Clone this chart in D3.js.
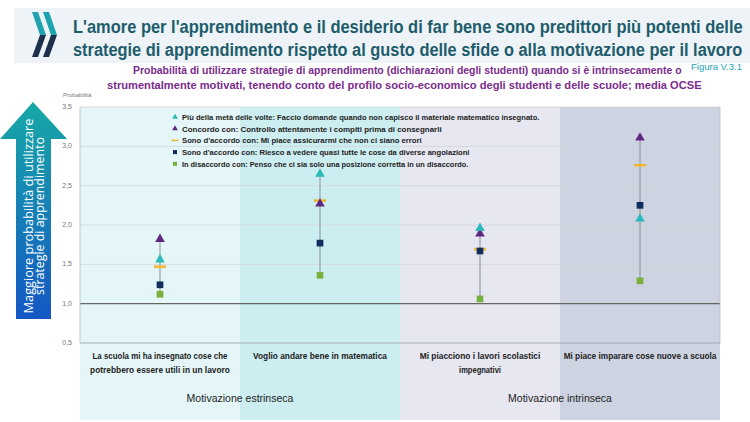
<!DOCTYPE html>
<html>
<head>
<meta charset="utf-8">
<script src="https://cdn.jsdelivr.net/npm/d3@7"></script>
<style>
  body { margin: 0; background: #fff; }
  svg { display: block; font-family: "Liberation Sans", "Noto Sans", sans-serif; }
</style>
</head>
<body>
<svg id="chart" width="750" height="422"></svg>
<script>
const width = 750;
const height = 422;

// data
const categories = ["lavoro", "matematica", "impegnativi", "imparare"];
const catLabels = [
  ["La scuola mi ha insegnato cose che", "potrebbero essere utili in un lavoro"],
  ["Voglio andare bene in matematica"],
  ["Mi piacciono i lavori scolastici", "impegnativi"],
  ["Mi piace imparare cose nuove a scuola"]
];
const groups = ["Motivazione estrinseca", "Motivazione intrinseca"];
const seriesNames = [
  "Più della metà delle volte: Faccio domande quando non capisco il materiale matematico insegnato.",
  "Concordo con: Controllo attentamente i compiti prima di consegnarli",
  "Sono d'accordo con: Mi piace assicurarmi che non ci siano errori",
  "Sono d'accordo con: Riesco a vedere quasi tutte le cose da diverse angolazioni",
  "In disaccordo con: Penso che ci sia solo una posizione corretta in un disaccordo."
];
const domande    = [1.56, 2.65, 1.96, 2.08];
const controllo  = [1.82, 2.27, 1.89, 3.11];
const errori     = [1.47, 2.31, 1.69, 2.76];
const angolazioni = [1.24, 1.77, 1.67, 2.25];
const disaccordo = [1.12, 1.36, 1.06, 1.29];
const yTicks = [0.5, 1.0, 1.5, 2.0, 2.5, 3.0, 3.5];

const margin = {top: 107, right: 30, bottom: 79, left: 80};

const svg = d3.select("#chart");

// squeeze a text horizontally to a target width (the original face is narrow)
function fitText(sel, px, py, w, rot) {
  sel.attr("x", 0).attr("y", 0);
  const n = sel.node().getComputedTextLength();
  const s = w / n;
  sel.attr("transform", `translate(${px},${py})${rot ? ` rotate(${rot})` : ""} scale(${s},1)`);
  return sel;
}

const x = d3.scaleBand()
    .domain(categories)
    .range([margin.left, width - margin.right]);

const y = d3.scaleLinear()
    .domain([0.5, 3.5])
    .range([height - margin.bottom, margin.top]);

// panel backgrounds
const panelFill = ["#e4f6f7", "#cdeef0", "#e6e7f1", "#cdd3e1"];
svg.selectAll("rect.panel")
    .data(categories)
    .enter()
    .append("rect")
    .attr("class", "panel")
    .attr("x", d => x(d))
    .attr("y", margin.top)
    .attr("width", x.bandwidth())
    .attr("height", 420 - margin.top)
    .attr("fill", (d, i) => panelFill[i]);

// title band
svg.append("rect")
    .attr("x", 14).attr("y", 8)
    .attr("width", 736).attr("height", 55)
    .attr("fill", "#eef3f7");

// logo chevrons
[0, 11].forEach(dx => {
  svg.append("path")
      .attr("d", `M${32 + dx},12 L${38 + dx},12 L${46 + dx},35 L${40 + dx},35 Z`)
      .attr("fill", "#1fa3ae");
  svg.append("path")
      .attr("d", `M${40 + dx},35 L${46 + dx},35 L${38 + dx},57 L${32 + dx},57 Z`)
      .attr("fill", "#1d2f4b");
});

const title = [
  "L'amore per l'apprendimento e il desiderio di far bene sono predittori più potenti delle",
  "strategie di apprendimento rispetto al gusto delle sfide o alla motivazione per il lavoro"
];
title.forEach((t, i) => {
  const el = svg.append("text")
      .style("font-size", "19px")
      .style("font-weight", "bold")
      .attr("fill", "#1d5c6b")
      .text(t);
  fitText(el, 73, 33 + i * 23, 670);
});

const subtitle = [
  {t: "Probabilità di utilizzare strategie di apprendimento (dichiarazioni degli studenti) quando si è intrinsecamente o", x: 133, w: 549},
  {t: "strumentalmente motivati, tenendo conto del profilo socio-economico degli studenti e delle scuole; media OCSE", x: 107, w: 595}
];
subtitle.forEach((d, i) => {
  const el = svg.append("text")
      .style("font-size", "10.5px")
      .style("font-weight", "bold")
      .attr("fill", "#7a2c8c")
      .text(d.t);
  fitText(el, d.x, 74 + i * 15, d.w);
});

fitText(svg.append("text")
    .style("font-size", "9px")
    .attr("fill", "#1ba6b4")
    .text("Figura V.3.1"), 691, 70, 51);

svg.append("text")
    .attr("x", 63).attr("y", 97)
    .style("font-size", "6px")
    .attr("fill", "#777")
    .text("Probabilità");

// gridlines and y axis labels
svg.selectAll("line.grid")
    .data(yTicks)
    .enter()
    .append("line")
    .attr("x1", margin.left)
    .attr("x2", width - margin.right)
    .attr("y1", d => y(d))
    .attr("y2", d => y(d))
    .attr("stroke", d => d === 1 ? "#666" : (d === 0.5 ? "#9aa0a6" : "#cfd4d9"))
    .attr("stroke-width", d => d === 1 ? 1.3 : 0.8);

svg.selectAll("text.ytick")
    .data(yTicks)
    .enter()
    .append("text")
    .attr("class", "ytick")
    .attr("x", 72)
    .attr("y", d => y(d) + 2)
    .attr("text-anchor", "end")
    .style("font-size", "7px")
    .attr("fill", "#777")
    .text(d => d3.format(".1f")(d).replace(".", ","));

// plot side borders
[margin.left, width - margin.right].forEach(px => {
  svg.append("line")
      .attr("x1", px).attr("x2", px)
      .attr("y1", margin.top).attr("y2", y(0.5))
      .attr("stroke", "#b5bcc4")
      .attr("stroke-width", 0.8);
});

// range lines
const all = [domande, controllo, errori, angolazioni, disaccordo];
svg.selectAll("line.range")
    .data(categories)
    .enter()
    .append("line")
    .attr("x1", d => x(d) + x.bandwidth() / 2)
    .attr("x2", d => x(d) + x.bandwidth() / 2)
    .attr("y1", (d, i) => y(d3.max(all, s => s[i])))
    .attr("y2", (d, i) => y(d3.min(all, s => s[i])))
    .attr("stroke", "#8a8f96")
    .attr("stroke-width", 1);

const cx = i => x(categories[i]) + x.bandwidth() / 2;
const tri = d3.symbol().type(d3.symbolTriangle);
const sq = d3.symbol().type(d3.symbolSquare);

const series = [
  {vals: errori, kind: "dash", color: "#f0b429"},
  {vals: angolazioni, kind: "sq", color: "#112d5c"},
  {vals: disaccordo, kind: "sq", color: "#79b03c"},
  {vals: controllo, kind: "tri", color: "#5e2880"},
  {vals: domande, kind: "tri", color: "#2bb8b9"}
];

function drawMarker(sel, kind, color, size) {
  if (kind === "dash") {
    sel.append("rect")
        .attr("x", -6 * size).attr("y", -1.2 * size)
        .attr("width", 12 * size).attr("height", 2.4 * size)
        .attr("fill", color);
  } else {
    sel.append("path")
        .attr("d", (kind === "tri" ? tri : sq).size((kind === "tri" ? 40 : 45) * size * size)())
        .attr("fill", color);
  }
}

series.forEach(s => {
  s.vals.forEach((v, i) => {
    const m = svg.append("g").attr("transform", `translate(${cx(i)},${y(v)})`);
    drawMarker(m, s.kind, s.color, 1);
  });
});

// legend
const legendSeries = [series[4], series[3], series[0], series[1], series[2]];
const legendWidths = [358, 260, 240, 288, 287];
const legend = svg.append("g").attr("transform", "translate(175,117)");
seriesNames.forEach((name, i) => {
  const row = legend.append("g").attr("transform", `translate(0,${i * 11.7})`);
  drawMarker(row, legendSeries[i].kind, legendSeries[i].color, 0.6);
  const el = row.append("text")
      .style("font-size", "8px")
      .style("font-weight", "bold")
      .attr("fill", "#222")
      .text(name);
  fitText(el, 7, 3, legendWidths[i]);
});

// category labels
const catWidths = [[135, 140], [134], [121, 42], [153]];
categories.forEach((c, i) => {
  catLabels[i].forEach((line, j) => {
    const el = svg.append("text")
        .attr("text-anchor", "middle")
        .style("font-size", "9px")
        .attr("fill", "#222")
        .style("font-weight", "bold")
        .text(line);
    fitText(el, cx(i), 359 + j * 14, catWidths[i][j]);
  });
});

// group labels
groups.forEach((g, i) => {
  svg.append("text")
      .attr("x", x(categories[i * 2 + 1]))
      .attr("y", 402)
      .attr("text-anchor", "middle")
      .style("font-size", "10.5px")
      .attr("fill", "#222")
      .text(g);
});

// left arrow
const defs = svg.append("defs");
const grad = defs.append("linearGradient")
    .attr("id", "arrowGrad")
    .attr("x1", 0).attr("y1", 0).attr("x2", 0).attr("y2", 1);
grad.append("stop").attr("offset", "0%").attr("stop-color", "#17a9a6");
grad.append("stop").attr("offset", "100%").attr("stop-color", "#1457c4");

svg.append("path")
    .attr("d", "M33,102 L67,139 L51,139 L51,319 L16,319 L16,139 L0,139 Z")
    .attr("fill", "url(#arrowGrad)");

const arrowText = [
  {t: "Maggiore probabilità di utilizzare", w: 195},
  {t: "strategie di apprendimento", w: 158}
];
arrowText.forEach((d, i) => {
  const el = svg.append("text")
      .attr("text-anchor", "middle")
      .style("font-family", "'Open Sans', sans-serif")
      .style("font-size", "12.5px")
      .attr("fill", "#fff")
      .text(d.t);
  fitText(el, 32.5 + i * 11.5, 216, d.w, -90);
});
</script>
</body>
</html>
